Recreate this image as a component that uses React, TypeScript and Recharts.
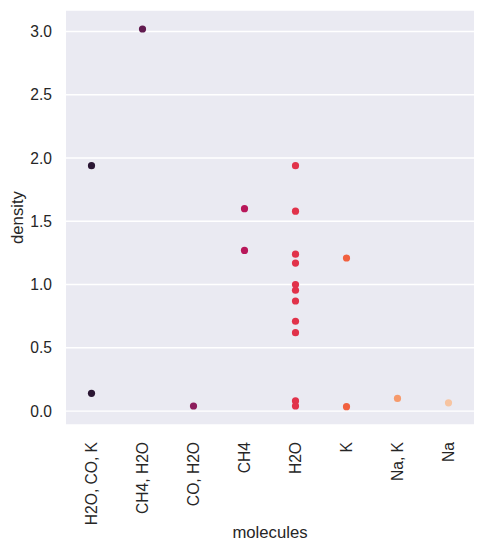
import { ScatterChart, Scatter, XAxis, YAxis, CartesianGrid, Label } from 'recharts'

const categories = ['H2O, CO, K', 'CH4, H2O', 'CO, H2O', 'CH4', 'H2O', 'K', 'Na, K', 'Na']
const colors = ['#2a1633', '#611a4f', '#8d1e5d', '#b8175a', '#e1324a', '#f1603f', '#f69a6c', '#f7c4a1']

const h2oCoK = [1.94, 0.14]
const ch4H2o = [3.02]
const coH2o = [0.04]
const ch4 = [1.6, 1.27]
const h2o = [1.94, 1.58, 1.24, 1.17, 1.0, 0.955, 0.87, 0.71, 0.62, 0.08, 0.04]
const k = [1.21, 0.035]
const naK = [0.1]
const na = [0.065]

const seriesValues = [h2oCoK, ch4H2o, coH2o, ch4, h2o, k, naK, na]
const yTicks = [0, 0.5, 1, 1.5, 2, 2.5, 3]

const FONT = '"Liberation Sans", Arial, sans-serif'
const INK = '#262626'

const XTick = ({ x, y, payload }: any) => (
  <text
    x={x}
    y={y}
    transform={`rotate(-90, ${x}, ${y})`}
    textAnchor="end"
    dominantBaseline="central"
    fill={INK}
    fontSize={15.6}
    fontFamily={FONT}
  >
    {categories[payload.value]}
  </text>
)

const Dot = (props: any) => <circle cx={props.cx} cy={props.cy} r={3.6} fill={props.fill} />

export default function App () {
  return (
    <div style={{ position: 'absolute', left: 0, top: 0 }}>
      <ScatterChart width={484} height={551} margin={{ top: 10, right: 10, bottom: 0, left: 0 }}>
        <CartesianGrid horizontal vertical={false} fill="#eaeaf2" stroke="#ffffff" strokeWidth={1.4} fillOpacity={1} />
        <XAxis
          type="number"
          dataKey="x"
          domain={[-0.5, 7.5]}
          ticks={categories.map((_, i) => i)}
          interval={0}
          height={126}
          axisLine={false}
          tickLine={false}
          tickSize={0}
          tickMargin={17}
          tick={<XTick />}
        >
          <Label
            content={({ viewBox }: any) => (
              <text
                x={viewBox.x + viewBox.width / 2}
                y={viewBox.y + viewBox.height - 13}
                textAnchor="middle"
                fill={INK}
                fontSize={16.7}
                fontFamily={FONT}
              >
                molecules
              </text>
            )}
          />
        </XAxis>
        <YAxis
          type="number"
          dataKey="y"
          domain={[-0.11, 3.17]}
          ticks={yTicks}
          width={66}
          axisLine={false}
          tickLine={false}
          tickSize={0}
          tickMargin={14}
          tickFormatter={(v: number) => v.toFixed(1)}
          tick={{ fill: INK, fontSize: 15.6, fontFamily: FONT }}
        >
          <Label
            content={({ viewBox }: any) => {
              const cx = viewBox.x + 17
              const cy = viewBox.y + viewBox.height / 2
              return (
                <text
                  x={cx}
                  y={cy}
                  transform={`rotate(-90, ${cx}, ${cy})`}
                  textAnchor="middle"
                  dominantBaseline="central"
                  fill={INK}
                  fontSize={16.7}
                  fontFamily={FONT}
                >
                  density
                </text>
              )
            }}
          />
        </YAxis>
        {seriesValues.map((vals, i) => (
          <Scatter
            key={categories[i]}
            name={categories[i]}
            data={vals.map((v) => ({ x: i, y: v }))}
            fill={colors[i]}
            shape={<Dot />}
            isAnimationActive={false}
          />
        ))}
      </ScatterChart>
    </div>
  )
}
